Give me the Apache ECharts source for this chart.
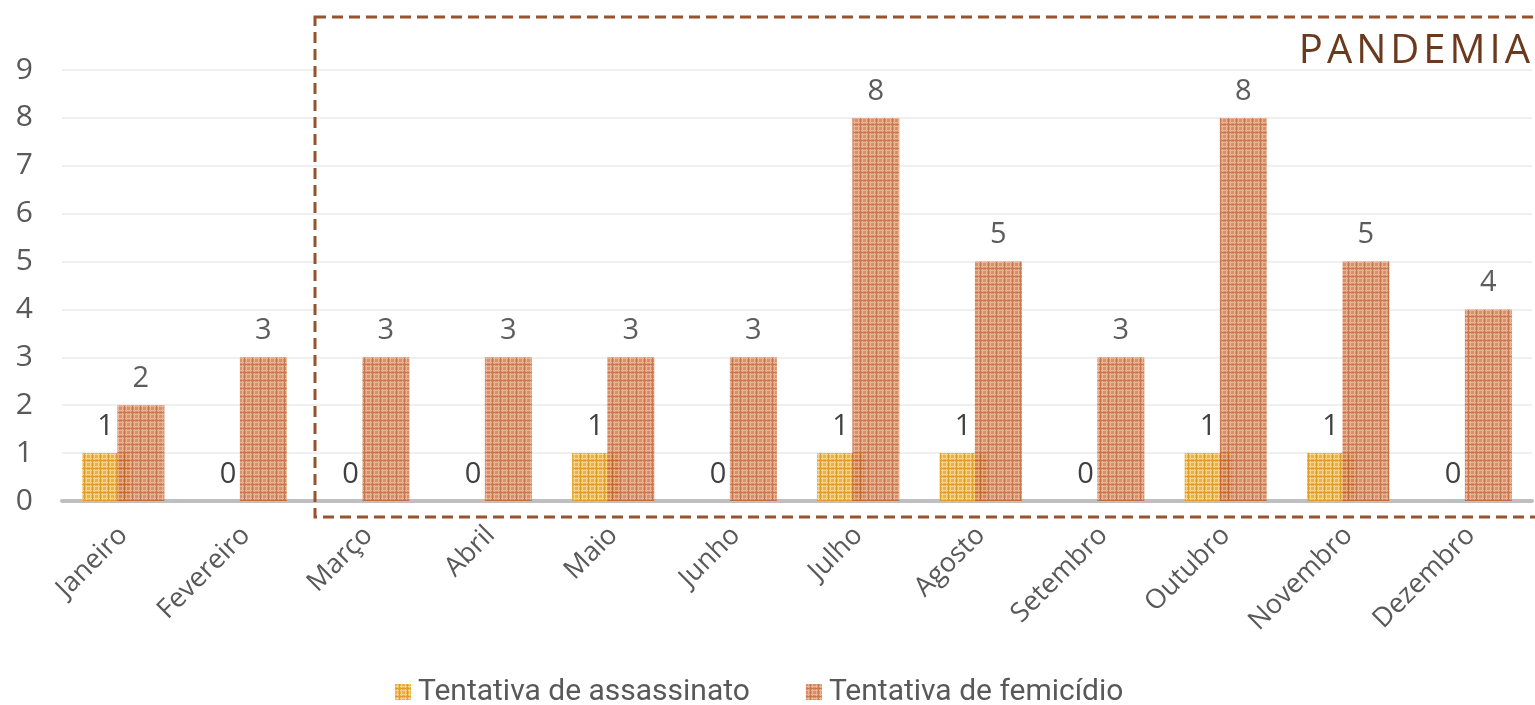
<!DOCTYPE html>
<html><head><meta charset="utf-8">
<script src="https://cdn.jsdelivr.net/npm/echarts@6/dist/echarts.min.js"></script>
<style>
html,body{margin:0;padding:0;background:#fff;}
#wrap{position:relative;width:1535px;height:705px;}
#c{width:1535px;height:705px;}
#pand{position:absolute;right:1px;top:24px;font-family:"Open Sans",sans-serif;font-size:40px;letter-spacing:4px;color:#6B3A1E;line-height:48px;}
</style></head>
<body><div id="wrap"><div id="c"></div><div id="pand">PANDEMIA</div></div>
<script>
const categories = ["Janeiro","Fevereiro","Março","Abril","Maio","Junho","Julho","Agosto","Setembro","Outubro","Novembro","Dezembro"];
const tentativaAssassinato = [1,0,0,0,1,0,1,1,0,1,1,0];
const tentativaFemicidio = [2,3,3,3,3,3,8,5,3,8,5,4];
const yTicks = [0,1,2,3,4,5,6,7,8,9];

function makePattern(base, light, dark){
  const c = document.createElement('canvas');
  c.width = 8; c.height = 8;
  const g = c.getContext('2d');
  g.fillStyle = base; g.fillRect(0,0,8,8);
  g.fillStyle = light;
  g.fillRect(2,0,1,8); g.fillRect(6,0,1,8);
  g.fillRect(0,2,8,1); g.fillRect(0,6,8,1);
  g.fillStyle = dark;
  g.fillRect(4,0,1,8); g.fillRect(0,4,8,1);
  return {image:c, repeat:'repeat'};
}
const patY = makePattern('#EFB13E','#F7D48E','#E39E2A');
const patO = makePattern('#D47B4E','#E6A886','#C2602F');

const chart = echarts.init(document.getElementById('c'));
const labelStyle = {show:true, position:'top', distance:12, fontSize:29, color:'#404040', fontFamily:'Open Sans'};
chart.setOption({
  animation:false,
  grid:{left:62, right:3, top:70, bottom:204},
  legend:{
    top:672, left:390, itemWidth:16, itemHeight:16, itemGap:56, icon:'rect',
    textStyle:{fontSize:30, color:'#595959', fontFamily:'Liberation Sans Narrow, Roboto, sans-serif', padding:[0,0,0,2]},
    data:[
      {name:'Tentativa de assassinato', itemStyle:{color:patY}},
      {name:'Tentativa de femicídio', itemStyle:{color:patO}}
    ]
  },
  xAxis:{
    type:'category', data:categories,
    axisLine:{lineStyle:{color:'#BFBFBF', width:4}},
    axisTick:{show:false},
    axisLabel:{rotate:45, fontSize:27, color:'#595959', fontFamily:'Open Sans', margin:30, interval:0}
  },
  yAxis:{
    type:'value', min:0, max:9, interval:1,
    axisLine:{show:false}, axisTick:{show:false},
    axisLabel:{fontSize:30, color:'#595959', fontFamily:'Open Sans', margin:29,
      formatter:v=>String(yTicks[v]!==undefined?yTicks[v]:v)},
    splitLine:{lineStyle:{color:'#EFEFEF', width:2}}
  },
  series:[
    {name:'Tentativa de assassinato', type:'bar', data:tentativaAssassinato, barWidth:47, barGap:'-25%',
     itemStyle:{color:patY}, label:labelStyle, z:2},
    {name:'Tentativa de femicídio', type:'bar', data:tentativaFemicidio, barWidth:47,
     itemStyle:{color:patO, opacity:0.85}, label:labelStyle, z:3}
  ]
});

const c1 = chart.convertToPixel({xAxisIndex:0}, 1);
const c2 = chart.convertToPixel({xAxisIndex:0}, 2);
const boxLeft = (c1 + c2) / 2 + 8;
chart.setOption({
  graphic:[{
    type:'rect', z:100, silent:true,
    shape:{x:boxLeft, y:17, width:1535 - boxLeft + 10, height:500},
    style:{fill:'none', stroke:'#95532E', lineWidth:3, lineDash:[11,6]}
  }]
});
</script></body></html>
